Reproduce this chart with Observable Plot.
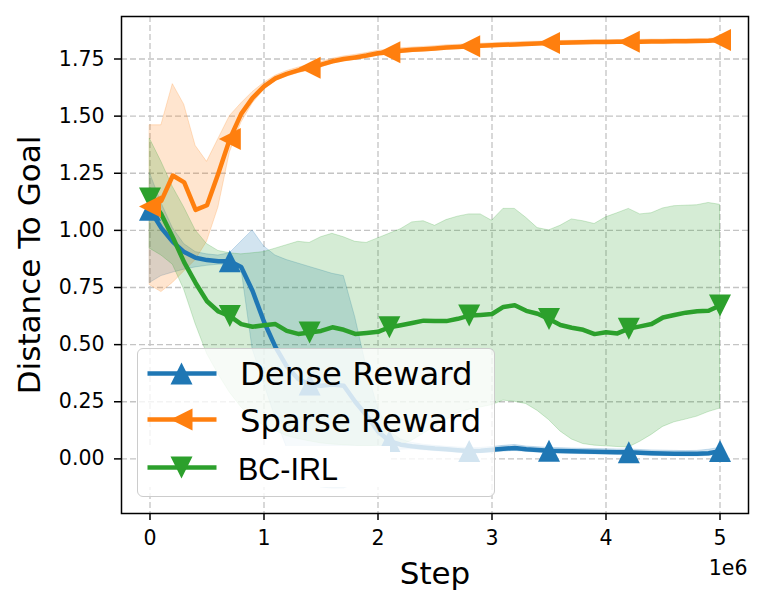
<!DOCTYPE html>
<html>
<head>
<meta charset="utf-8">
<script src="https://cdn.jsdelivr.net/npm/d3@7"></script>
<script src="https://cdn.jsdelivr.net/npm/@observablehq/plot@0.6"></script>
<style>
  body { margin: 0; background: #fff; }
  #wrap { position: relative; width: 761px; height: 607px; font-family: "DejaVu Sans"; }
  #legend { position: absolute; left: 137px; top: 348px; width: 358px; height: 149px; box-sizing: border-box;
            background: rgba(255,255,255,0.8); border: 1.5px solid #cccccc; border-radius: 6px; }
  #legend svg { position: absolute; left: 0; top: 0; overflow: visible; }
</style>
</head>
<body>
<div id="wrap"></div>
<script>
// ---- data (x in units of 1e6 steps) ----
const steps = [0,0.1,0.2,0.3,0.4,0.5,0.6,0.7,0.8,0.9,1.0,1.1,1.2,1.3,1.4,1.5,1.6,1.7,1.8,1.9,2.0,2.1,2.2,2.3,2.4,2.5,2.6,2.7,2.8,2.9,3.0,3.1,3.2,3.3,3.4,3.5,3.6,3.7,3.8,3.9,4.0,4.1,4.2,4.3,4.4,4.5,4.6,4.7,4.8,4.9,5.0];

const denseMean = [1.09,1.01,0.95,0.905,0.88,0.87,0.865,0.865,0.84,0.735,0.60,0.49,0.405,0.35,0.325,0.32,0.325,0.32,0.25,0.19,0.12,0.078,0.062,0.055,0.05,0.045,0.042,0.038,0.035,0.036,0.04,0.044,0.048,0.042,0.039,0.036,0.035,0.033,0.032,0.031,0.03,0.029,0.029,0.027,0.025,0.024,0.023,0.022,0.022,0.025,0.034];
const denseHi = [1.25,1.12,1.01,0.94,0.905,0.895,0.89,0.90,0.95,1.0,0.93,0.89,0.87,0.855,0.84,0.825,0.81,0.80,0.62,0.40,0.22,0.12,0.085,0.07,0.062,0.057,0.053,0.05,0.047,0.048,0.052,0.057,0.061,0.054,0.051,0.048,0.047,0.045,0.044,0.043,0.042,0.041,0.041,0.039,0.037,0.036,0.035,0.034,0.035,0.04,0.048];
const denseLo = [0.77,0.80,0.815,0.828,0.838,0.845,0.85,0.85,0.84,0.48,0.33,0.18,0.05,-0.04,-0.10,-0.125,-0.13,-0.13,-0.11,-0.04,0.02,0.035,0.04,0.042,0.038,0.034,0.031,0.027,0.024,0.025,0.028,0.032,0.035,0.031,0.028,0.025,0.024,0.022,0.021,0.02,0.019,0.018,0.018,0.016,0.014,0.013,0.012,0.011,0.011,0.013,0.02];

const sparseMean = [1.105,1.13,1.24,1.21,1.09,1.11,1.25,1.40,1.51,1.58,1.63,1.665,1.685,1.70,1.712,1.725,1.74,1.75,1.757,1.765,1.775,1.78,1.786,1.79,1.793,1.796,1.80,1.803,1.806,1.808,1.81,1.812,1.814,1.816,1.818,1.82,1.821,1.822,1.823,1.824,1.824,1.825,1.825,1.826,1.827,1.827,1.828,1.828,1.829,1.83,1.833];
const sparseHi = [1.46,1.46,1.64,1.55,1.37,1.30,1.40,1.50,1.555,1.605,1.645,1.677,1.697,1.712,1.724,1.737,1.751,1.761,1.768,1.776,1.786,1.791,1.797,1.80,1.803,1.806,1.81,1.812,1.815,1.817,1.819,1.821,1.823,1.825,1.826,1.828,1.829,1.83,1.831,1.832,1.832,1.833,1.833,1.834,1.835,1.835,1.836,1.836,1.837,1.838,1.84];
const sparseLo = [0.76,0.73,0.77,0.82,0.87,0.95,1.10,1.34,1.47,1.555,1.615,1.653,1.673,1.688,1.70,1.713,1.729,1.739,1.746,1.754,1.764,1.769,1.775,1.78,1.783,1.786,1.79,1.794,1.797,1.799,1.801,1.803,1.805,1.807,1.81,1.812,1.813,1.814,1.815,1.816,1.816,1.817,1.817,1.818,1.819,1.819,1.82,1.82,1.821,1.822,1.826];

const bcirlMean = [1.14,1.07,0.97,0.86,0.77,0.69,0.645,0.625,0.59,0.578,0.585,0.59,0.56,0.547,0.553,0.56,0.576,0.565,0.547,0.551,0.556,0.576,0.585,0.595,0.605,0.603,0.603,0.613,0.627,0.63,0.634,0.665,0.672,0.648,0.635,0.612,0.586,0.574,0.565,0.546,0.554,0.549,0.57,0.58,0.59,0.619,0.63,0.64,0.646,0.648,0.671];
const bcirlHi = [1.40,1.30,1.19,1.10,1.0,0.94,0.91,0.90,0.895,0.90,0.905,0.92,0.935,0.95,0.945,0.97,0.985,0.97,0.95,0.945,0.965,0.985,1.005,1.035,1.04,1.02,1.045,1.06,1.07,1.07,1.042,1.094,1.094,1.055,1.01,1.0,1.02,1.048,1.04,1.028,1.057,1.075,1.094,1.07,1.075,1.096,1.106,1.108,1.11,1.12,1.112];
const bcirlLo = [0.92,0.89,0.85,0.74,0.59,0.46,0.37,0.29,0.226,0.18,0.145,0.122,0.10,0.087,0.077,0.068,0.063,0.06,0.057,0.055,0.052,0.05,0.06,0.08,0.11,0.14,0.17,0.2,0.215,0.225,0.235,0.255,0.25,0.24,0.21,0.17,0.12,0.085,0.065,0.058,0.055,0.052,0.05,0.075,0.105,0.14,0.16,0.172,0.185,0.205,0.22];

const markerIdx = [0,7,14,21,28,35,42,50];
const xTicks = [0,1,2,3,4,5];
const yTicks = [0,0.25,0.5,0.75,1.0,1.25,1.5,1.75];
const seriesNames = ["Dense Reward","Sparse Reward","BC-IRL"];
const colors = ["#1f77b4","#ff7f0e","#2ca02c"];

// ---- marker shapes (matplotlib-like triangles) ----
const triUp = {draw(c, s){const h=Math.sqrt(s/Math.PI); c.moveTo(0,-h); c.lineTo(h,h); c.lineTo(-h,h); c.closePath();}};
const triLeft = {draw(c, s){const h=Math.sqrt(s/Math.PI); c.moveTo(-h,0); c.lineTo(h,-h); c.lineTo(h,h); c.closePath();}};
const triDown = {draw(c, s){const h=Math.sqrt(s/Math.PI); c.moveTo(0,h); c.lineTo(-h,-h); c.lineTo(h,-h); c.closePath();}};

const series = [
  {name: seriesNames[0], mean: denseMean, lo: denseLo, hi: denseHi, color: colors[0], sym: triUp},
  {name: seriesNames[1], mean: sparseMean, lo: sparseLo, hi: sparseHi, color: colors[1], sym: triLeft},
  {name: seriesNames[2], mean: bcirlMean, lo: bcirlLo, hi: bcirlHi, color: colors[2], sym: triDown}
];
const tables = series.map(s => steps.map((x, i) => ({x, y: s.mean[i], lo: s.lo[i], hi: s.hi[i]})));

const bandMarks = series.map((s, k) => Plot.areaY(tables[k], {x: "x", y1: "lo", y2: "hi", fill: s.color, fillOpacity: 0.2, stroke: s.color, strokeOpacity: 0.22, strokeWidth: 1}));
const drawOrder = [0, 2, 1];
const lineMarks = drawOrder.flatMap(k => [
  Plot.line(tables[k], {x: "x", y: "y", stroke: series[k].color, strokeWidth: 4.5, strokeLinejoin: "round", strokeLinecap: "round"}),
  Plot.dot(markerIdx.map(i => tables[k][i]), {x: "x", y: "y", symbol: series[k].sym, r: 11, fill: series[k].color, stroke: "none"})
]);

const grid = {stroke: "#c4c4c4", strokeDasharray: "6,3", strokeWidth: 1.3, strokeOpacity: 1};

const chart = Plot.plot({
  width: 761, height: 607,
  marginLeft: 121, marginRight: 13, marginTop: 16, marginBottom: 94,
  style: {fontFamily: "DejaVu Sans", fontSize: "20.5px", color: "#000", background: "#fff", overflow: "visible"},
  x: {domain: [-0.25, 5.25], label: null},
  y: {domain: [-0.239, 1.936], label: null},
  marks: [
    Plot.gridX(xTicks, grid),
    Plot.gridY(yTicks, grid),
    ...bandMarks,
    ...lineMarks,
    Plot.frame({stroke: "#000", strokeWidth: 1.5}),
    Plot.axisX(xTicks, {tickSize: 7, tickPadding: 10, strokeWidth: 1.5, tickFormat: d => String(d), label: null, fontSize: 20.5}),
    Plot.axisY(yTicks, {tickSize: 7, tickPadding: 10, strokeWidth: 1.5, tickFormat: d3.format(".2f"), label: null, fontSize: 20.5}),
    Plot.text(["Step"], {text: d => d, frameAnchor: "bottom", dy: 61, fontSize: 31, lineAnchor: "middle", textAnchor: "middle"}),
    Plot.text(["Distance To Goal"], {text: d => d, frameAnchor: "left", dx: -91, rotate: -90, fontSize: 31, lineAnchor: "middle", textAnchor: "middle"}),
    Plot.text(["1e6"], {text: d => d, frameAnchor: "bottom-right", dx: -1, dy: 55, fontSize: 20.5, lineAnchor: "middle", textAnchor: "end"})
  ]
});

const wrap = document.getElementById("wrap");
wrap.appendChild(chart);

// ---- legend (inside the axes, lower-left) ----
const legend = document.createElement("div");
legend.id = "legend";
const rowY = [24.5, 70.5, 118.5];
const baseY = [36, 82.5, 130.5];
const ns = "http://www.w3.org/2000/svg";
const lsvg = document.createElementNS(ns, "svg");
lsvg.setAttribute("width", 355); lsvg.setAttribute("height", 146);
const wb = document.createElementNS(ns, "rect");
wb.setAttribute("x", 0); wb.setAttribute("y", 97); wb.setAttribute("width", 252); wb.setAttribute("height", 41); wb.setAttribute("fill", "#fff");
lsvg.appendChild(wb);
const h = 11, cx = 43.5;
const shapes = [
  (y) => `${cx},${y-h} ${cx+h},${y+h} ${cx-h},${y+h}`,
  (y) => `${cx-h},${y} ${cx+h},${y-h} ${cx+h},${y+h}`,
  (y) => `${cx},${y+h} ${cx-h},${y-h} ${cx+h},${y-h}`
];
series.forEach((s, k) => {
  const ln = document.createElementNS(ns, "line");
  ln.setAttribute("x1", 9.5); ln.setAttribute("x2", 78.5); ln.setAttribute("y1", rowY[k]); ln.setAttribute("y2", rowY[k]);
  ln.setAttribute("stroke", s.color); ln.setAttribute("stroke-width", 4.5);
  lsvg.appendChild(ln);
  const pg = document.createElementNS(ns, "polygon");
  pg.setAttribute("points", shapes[k](rowY[k])); pg.setAttribute("fill", s.color);
  lsvg.appendChild(pg);
  const tx = document.createElementNS(ns, "text");
  tx.setAttribute("x", k < 2 ? 102 : 100); tx.setAttribute("y", baseY[k]);
  tx.setAttribute("font-family", k < 2 ? "DejaVu Sans" : "Liberation Sans");
  tx.setAttribute("font-size", k < 2 ? 32.3 : 30.5);
  tx.setAttribute("fill", "#000");
  tx.textContent = s.name;
  lsvg.appendChild(tx);
});
legend.appendChild(lsvg);
wrap.appendChild(legend);
</script>
</body>
</html>
